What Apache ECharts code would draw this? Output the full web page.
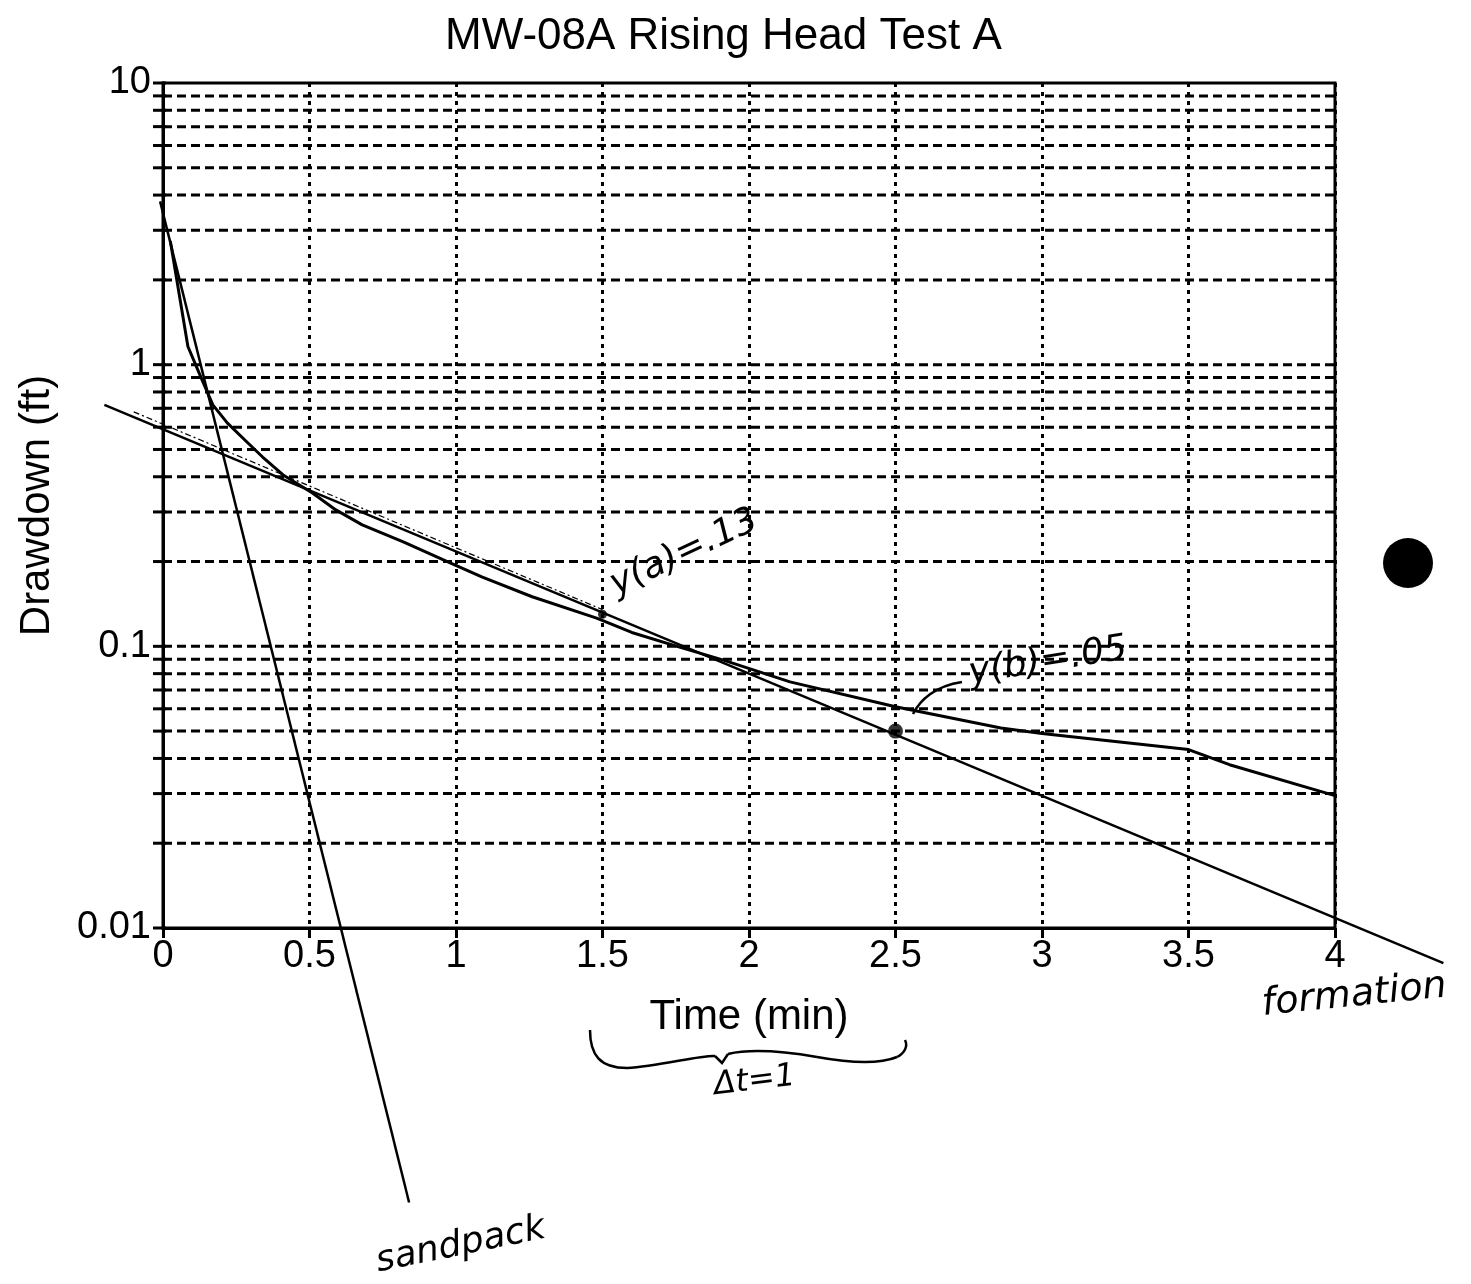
<!DOCTYPE html>
<html>
<head>
<meta charset="utf-8">
<script src="https://cdn.jsdelivr.net/npm/echarts@6/dist/echarts.min.js"></script>
<style>
html, body { margin: 0; background: #fff; }
#chart-container { width: 1471px; height: 1284px; }
</style>
</head>
<body>
<div id="chart-container"></div>
<script>
// 实测水位恢复曲线 (time in min, drawdown in ft)
var timeData = [0.025, 0.085, 0.13, 0.17, 0.22, 0.29, 0.34, 0.41, 0.51, 0.59, 0.68, 0.82, 0.98, 1.09, 1.26, 1.48, 1.6, 1.76, 1.91, 2.14, 2.5, 2.86, 3.0, 3.5, 3.64, 4.0];
var drawdownData = [2.75, 1.16, 0.9, 0.72, 0.62, 0.527, 0.47, 0.406, 0.35, 0.305, 0.27, 0.235, 0.198, 0.176, 0.15, 0.126, 0.112, 0.0996, 0.0895, 0.0748, 0.061, 0.0513, 0.049, 0.043, 0.038, 0.0295];

// 手绘直线: sandpack / formation
var sandpackTime = [-0.01, 0.84];
var sandpackDrawdown = [3.8, 0.00106];
var formationTime = [-0.2, 4.37];
var formationDrawdown = [0.72, 0.0075];
// 细虚线 (软件拟合线)
var fitTime = [-0.1, 1.5];
var fitDrawdown = [0.68, 0.135];
// 读取点 y(a), y(b)
var pickTime = [1.5, 2.5];
var pickDrawdown = [0.13, 0.05];

// 坐标轴
var xMin = 0, xMax = 4, xStep = 0.5;
var yMin = 0.01, yMax = 10;
var yGridValues = [0.02, 0.03, 0.04, 0.05, 0.06, 0.07, 0.08, 0.09, 0.1,
  0.2, 0.3, 0.4, 0.5, 0.6, 0.7, 0.8, 0.9, 1,
  2, 3, 4, 5, 6, 7, 8, 9];
var yTickValues = [0.01].concat(yGridValues, [10]);

function zip(xs, ys) {
  return xs.map(function (x, i) { return [x, ys[i]]; });
}

var container = document.getElementById('chart-container');
var myChart = echarts.init(container);

var axisFont = '"Liberation Sans", Arial, Helvetica, sans-serif';
var handFont = '"DejaVu Sans", sans-serif';
var penStyle = { stroke: '#000', lineWidth: 2.5, fill: null };

function handText(x, y, text, size, rot) {
  return {
    type: 'text', x: x, y: y, rotation: rot,
    style: {
      text: text, fill: '#000', fontSize: size, fontFamily: handFont,
      fontStyle: 'italic', textAlign: 'left', textVerticalAlign: 'bottom'
    }
  };
}

// 手绘曲线段 (bezier)
function pen(x1, y1, cx1, cy1, cx2, cy2, x2, y2) {
  return {
    type: 'bezierCurve',
    shape: { x1: x1, y1: y1, cpx1: cx1, cpy1: cy1, cpx2: cx2, cpy2: cy2, x2: x2, y2: y2 },
    style: penStyle
  };
}

// 手绘直线可以画出坐标区以外, 用 custom series
function handLine(name, ts, ds, width, dash) {
  return {
    name: name,
    type: 'custom',
    silent: true,
    clip: false,
    z: 5,
    encode: { x: [0, 2], y: [1, 3] },
    data: [[ts[0], ds[0], ts[1], ds[1]]],
    renderItem: function (params, api) {
      var p0 = api.coord([api.value(0), api.value(1)]);
      var p1 = api.coord([api.value(2), api.value(3)]);
      return {
        type: 'line',
        shape: { x1: p0[0], y1: p0[1], x2: p1[0], y2: p1[1] },
        style: { stroke: '#000', lineWidth: width, lineDash: dash || null }
      };
    }
  };
}

var option = {
  backgroundColor: '#fff',
  animation: false,
  title: {
    text: 'MW-08A Rising Head Test A',
    left: 440,
    top: 10,
    textStyle: { color: '#000', fontSize: 44, fontWeight: 'normal', fontFamily: axisFont }
  },
  grid: {
    left: 163, right: 136, top: 83, bottom: 356,
    show: true, borderColor: '#000', borderWidth: 3, backgroundColor: 'transparent'
  },
  xAxis: {
    type: 'value', min: xMin, max: xMax, interval: xStep,
    name: 'Time (min)', nameLocation: 'middle', nameGap: 68,
    nameTextStyle: { color: '#000', fontSize: 42, fontFamily: axisFont },
    axisLine: { lineStyle: { color: '#000', width: 3 } },
    axisTick: { show: true, length: 10, lineStyle: { color: '#000', width: 3 } },
    axisLabel: { color: '#000', fontSize: 38, fontFamily: axisFont, margin: 10 },
    splitLine: { show: true, lineStyle: { color: '#000', width: 3, type: [4, 5] } }
  },
  yAxis: {
    type: 'log', logBase: 10, min: yMin, max: yMax,
    name: 'Drawdown (ft)', nameLocation: 'middle', nameGap: 105,
    nameTextStyle: { color: '#000', fontSize: 42, fontFamily: axisFont },
    axisLine: { lineStyle: { color: '#000', width: 3 } },
    axisTick: { show: false },
    axisLabel: {
      color: '#000', fontSize: 38, fontFamily: axisFont, margin: 12,
      formatter: function (v) { return String(+v.toPrecision(3)); }
    },
    splitLine: { show: false }
  },
  series: [
    {
      // 对数网格线 (2..9 倍)
      type: 'custom',
      silent: true,
      clip: false,
      z: 1,
      data: yGridValues.map(function (v) { return [xMin, v]; }),
      renderItem: function (params, api) {
        var v = api.value(1);
        var p0 = api.coord([xMin, v]);
        var p1 = api.coord([xMax, v]);
        return {
          type: 'line',
          shape: { x1: p0[0], y1: p0[1], x2: p1[0], y2: p1[1] },
          style: { stroke: '#000', lineWidth: 3, lineDash: [9, 5] }
        };
      }
    },
    {
      // y 轴刻度
      type: 'custom',
      silent: true,
      clip: false,
      z: 2,
      data: yTickValues.map(function (v) { return [xMin, v]; }),
      renderItem: function (params, api) {
        var p = api.coord([xMin, api.value(1)]);
        return {
          type: 'line',
          shape: { x1: p[0] - 10, y1: p[1], x2: p[0] + 3, y2: p[1] },
          style: { stroke: '#000', lineWidth: 3 }
        };
      }
    },
    {
      name: 'Drawdown',
      type: 'line',
      data: zip(timeData, drawdownData),
      showSymbol: false,
      lineStyle: { color: '#000', width: 3 },
      z: 5
    },
    handLine('sandpack', sandpackTime, sandpackDrawdown, 2.5),
    handLine('formation', formationTime, formationDrawdown, 2.5),
    handLine('fit', fitTime, fitDrawdown, 1.2, [6, 3, 2, 3]),
    {
      name: 'picks',
      type: 'scatter',
      data: zip(pickTime, pickDrawdown),
      symbol: 'circle',
      symbolSize: function (v, p) { return p.dataIndex === 1 ? 15 : 9; },
      itemStyle: { color: '#000' },
      z: 6
    }
  ],
  graphic: [
    handText(620, 603, 'y(a)=.13', 36, 0.44),
    handText(972, 692, 'y(b)=.05', 36, 0.16),
    pen(913, 714, 920, 700, 935, 686, 962, 682),
    // 花括号 Δt
    pen(590, 1030, 590, 1055, 600, 1068, 627, 1068),
    pen(627, 1068, 660, 1066, 700, 1055, 715, 1056),
    {
      type: 'polyline',
      shape: { points: [[715, 1056], [722, 1063], [728, 1054]] },
      style: penStyle
    },
    pen(728, 1054, 745, 1050, 770, 1049, 817, 1057),
    pen(817, 1057, 850, 1063, 880, 1064, 897, 1057),
    pen(897, 1057, 905, 1053, 908, 1046, 905, 1040),
    handText(716, 1102, '\u0394t=1', 32, 0.12),
    handText(380, 1280, 'sandpack', 36, 0.2),
    handText(1264, 1024, 'formation', 38, 0.1),
    {
      type: 'circle',
      shape: { cx: 1408, cy: 563, r: 25 },
      style: { fill: '#000' }
    }
  ]
};

myChart.setOption(option);
</script>
</body>
</html>
